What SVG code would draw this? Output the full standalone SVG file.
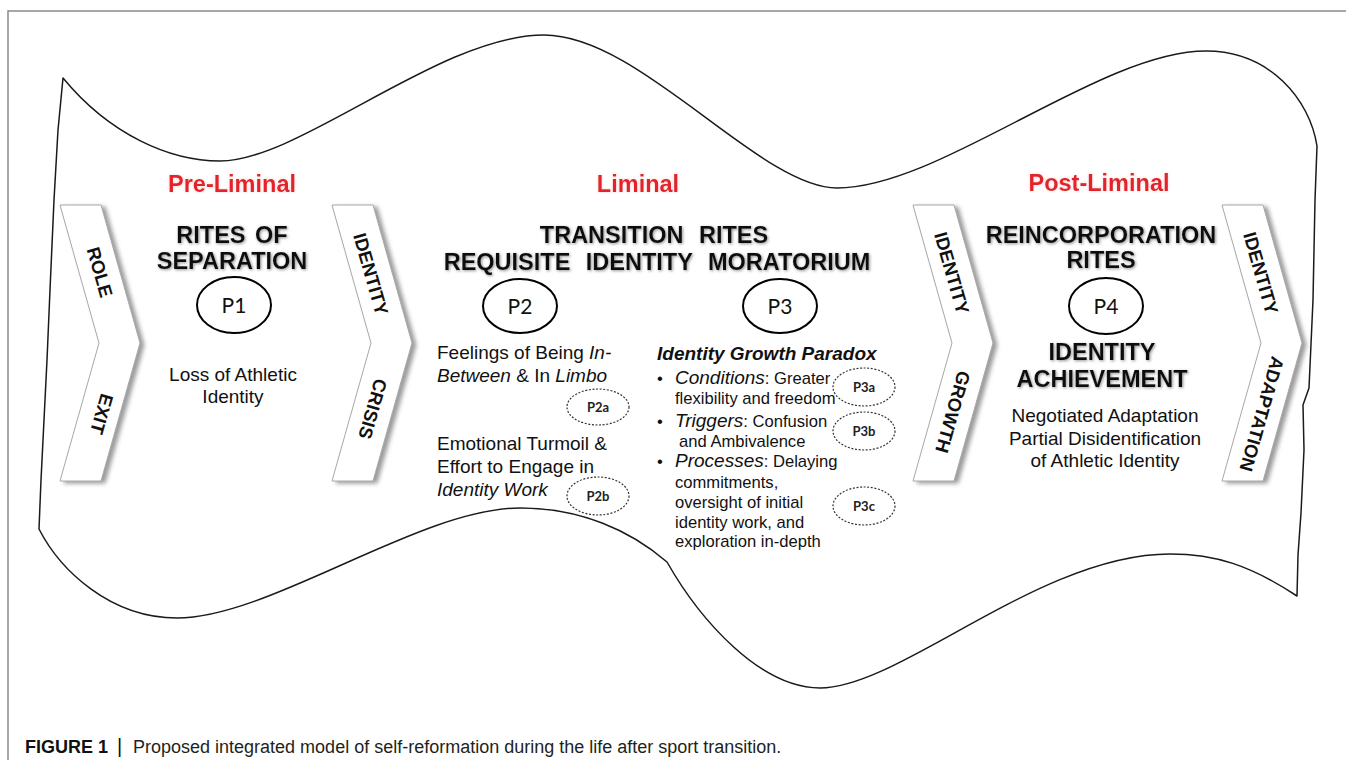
<svg xmlns="http://www.w3.org/2000/svg" width="1346" height="760" viewBox="0 0 1346 760">
<defs>
<filter id="shadow" x="-30%" y="-10%" width="160%" height="120%">
<feDropShadow dx="4" dy="2" stdDeviation="2.2" flood-color="#7a7a7a" flood-opacity="0.75"/>
</filter>
<filter id="glow" x="-10%" y="-40%" width="120%" height="180%">
<feGaussianBlur in="SourceAlpha" stdDeviation="1.6" result="b"/>
<feOffset in="b" dx="1" dy="1" result="o"/>
<feFlood flood-color="#7f7f7f" flood-opacity="0.85"/>
<feComposite in2="o" operator="in" result="s"/>
<feMerge><feMergeNode in="s"/><feMergeNode in="SourceGraphic"/></feMerge>
</filter>
<filter id="redglow" x="-10%" y="-40%" width="120%" height="180%">
<feGaussianBlur in="SourceAlpha" stdDeviation="1.5" result="b"/>
<feFlood flood-color="#f3b0b0" flood-opacity="0.6"/>
<feComposite in2="b" operator="in" result="s"/>
<feMerge><feMergeNode in="s"/><feMergeNode in="SourceGraphic"/></feMerge>
</filter>
</defs>
<style>
.frame{fill:none;stroke:#8a8a8a;stroke-width:1.5}
.wave{fill:#fff;stroke:#1a1a1a;stroke-width:1.5;stroke-linejoin:round}
.chev{fill:#fff;stroke:#a8a8a8;stroke-width:1}
.chevt{font-family:"Liberation Sans",Arial,sans-serif;font-weight:bold;font-size:18.5px;fill:#111;text-anchor:middle}
.stage{font-family:"Liberation Sans",Arial,sans-serif;font-weight:bold;font-size:23.5px;fill:#e3202a;text-anchor:middle}
.head{font-family:"Liberation Sans",Arial,sans-serif;font-weight:bold;font-size:23.5px;fill:#111;text-anchor:middle}
.body{font-family:"Liberation Sans",Arial,sans-serif;font-size:19px;fill:#111}
.small{font-family:"Liberation Sans",Arial,sans-serif;font-size:16.6px;fill:#111}
.mid{text-anchor:middle}
.it{font-style:italic}
.pel{fill:none;stroke:#000;stroke-width:2}
.plab{font-family:Lato,"Liberation Sans",sans-serif;font-size:21px;fill:#111;text-anchor:middle}
.dash{fill:none;stroke:#333;stroke-width:1.2;stroke-dasharray:2 1.6}
.dlab{font-family:Lato,"Liberation Sans",sans-serif;font-weight:bold;font-size:13px;fill:#222;text-anchor:middle}
.cap{font-family:"Liberation Sans",Arial,sans-serif;font-size:18px;fill:#231f20}
</style>
<rect x="0" y="0" width="1346" height="760" fill="#fff"/>
<path class="frame" d="M8,762 L8,11 L1348,11"/>
<path id="wave" class="wave" d="M63,78 C110,135 170,161 220,161 C300,161 440,35 544,35 C640,35 760,188 837,188 C940,188 1100,51 1206,51 C1270,51 1310,100 1317,146 L1315,200 L1313,300 L1309,388 L1303,405 L1304,450 L1301,513 L1298,555 L1297,596 C1250,565 1215,554 1170,554 C1040,554 900,688 820,688 C760,688 700,620 667,562 C630,530 580,508 520,508 C420,508 270,618 177,618 C110,618 60,570 39,529 L41,480 L44,420 L47,360 L50,290 L54,200 L58,130 Z"/>
<g id="connectors"/>
<g id="stage-pre"><text class="stage" x="232" y="192" filter="url(#redglow)">Pre-Liminal</text></g>
<g id="stage-liminal"><text class="stage" x="638" y="192" filter="url(#redglow)">Liminal</text></g>
<g id="stage-post"><text class="stage" x="1099" y="191" filter="url(#redglow)">Post-Liminal</text></g>
<g id="chevron-role-exit">
<polygon class="chev" filter="url(#shadow)" points="60,205 101,205 140,343 101,481 60,481 99,343"/>
<text class="chevt" transform="translate(100,272) rotate(74)" dy="0.36em">ROLE</text>
<text class="chevt" transform="translate(102,414) rotate(106)" dy="0.36em">EXIT</text>
</g>
<g id="chevron-identity-crisis">
<polygon class="chev" filter="url(#shadow)" points="332,205 373,205 412,343 373,481 332,481 371,343"/>
<text class="chevt" transform="translate(371,274) rotate(74)" dy="0.36em">IDENTITY</text>
<text class="chevt" transform="translate(373,409) rotate(106)" dy="0.36em">CRISIS</text>
</g>
<g id="chevron-identity-growth">
<polygon class="chev" filter="url(#shadow)" points="913,205 954,205 993,343 954,481 913,481 952,343"/>
<text class="chevt" transform="translate(952,273) rotate(74)" dy="0.36em">IDENTITY</text>
<text class="chevt" transform="translate(953,412) rotate(106)" dy="0.36em">GROWTH</text>
</g>
<g id="chevron-identity-adaptation">
<polygon class="chev" filter="url(#shadow)" points="1222,205 1263,205 1302,343 1263,481 1222,481 1261,343"/>
<text class="chevt" transform="translate(1261,273) rotate(74)" dy="0.36em">IDENTITY</text>
<text class="chevt" transform="translate(1262,414) rotate(106)" dy="0.36em">ADAPTATION</text>
</g>
<g id="rites-separation">
<text class="head" filter="url(#glow)" x="232" y="243" word-spacing="3">RITES OF</text>
<text class="head" filter="url(#glow)" x="232" y="269">SEPARATION</text>
<ellipse class="pel" cx="234" cy="305" rx="37" ry="28"/>
<text class="plab" x="234" y="313">P1</text>
<text class="body mid" x="233" y="381">Loss of Athletic</text>
<text class="body mid" x="233" y="403">Identity</text>
</g>
<g id="transition-rites">
<text class="head" filter="url(#glow)" x="654" y="243" word-spacing="9">TRANSITION RITES</text>
<text class="head" filter="url(#glow)" x="657" y="270" word-spacing="9">REQUISITE IDENTITY MORATORIUM</text>
</g>
<g id="p2">
<ellipse class="pel" cx="520" cy="306" rx="37" ry="27"/>
<text class="plab" x="520" y="314">P2</text>
<text class="body" x="437" y="359">Feelings of Being <tspan class="it">In-</tspan></text>
<text class="body" x="437" y="382"><tspan class="it">Between</tspan> &amp; In <tspan class="it">Limbo</tspan></text>
<text class="body" x="437" y="450">Emotional Turmoil &amp;</text>
<text class="body" x="437" y="473">Effort to Engage in</text>
<text class="body it" x="437" y="496">Identity Work</text>
</g>
<g id="p2a"><ellipse class="dash" cx="598" cy="407" rx="31" ry="18"/><text class="dlab" x="598" y="411.5">P2a</text></g>
<g id="p2b"><ellipse class="dash" cx="598" cy="496" rx="31" ry="19"/><text class="dlab" x="598" y="500.5">P2b</text></g>
<g id="p3">
<ellipse class="pel" cx="780" cy="306" rx="37" ry="27"/>
<text class="plab" x="780" y="314">P3</text>
<text class="body it" x="657" y="360" font-weight="bold" font-size="20.5">Identity Growth Paradox</text>
<text class="small" x="657" y="384">•</text>
<text class="small" x="675" y="384"><tspan class="it" font-size="19">Conditions</tspan>: Greater</text>
<text class="small" x="675" y="404">flexibility and freedom</text>
<text class="small" x="657" y="427">•</text>
<text class="small" x="675" y="427"><tspan class="it" font-size="19">Triggers</tspan>: Confusion</text>
<text class="small" x="679" y="447">and Ambivalence</text>
<text class="small" x="657" y="467">•</text>
<text class="small" x="675" y="467"><tspan class="it" font-size="19">Processes</tspan>: Delaying</text>
<text class="small" x="675" y="488">commitments,</text>
<text class="small" x="675" y="508">oversight of initial</text>
<text class="small" x="675" y="528">identity work, and</text>
<text class="small" x="675" y="547">exploration in-depth</text>
</g>
<g id="p3a"><ellipse class="dash" cx="864" cy="387" rx="31" ry="19"/><text class="dlab" x="864" y="391.5">P3a</text></g>
<g id="p3b"><ellipse class="dash" cx="864" cy="431" rx="31" ry="19"/><text class="dlab" x="864" y="435.5">P3b</text></g>
<g id="p3c"><ellipse class="dash" cx="864" cy="506" rx="31" ry="19"/><text class="dlab" x="864" y="510.5">P3c</text></g>
<g id="reincorporation">
<text class="head" filter="url(#glow)" x="1101" y="243">REINCORPORATION</text>
<text class="head" filter="url(#glow)" x="1101" y="268">RITES</text>
<ellipse class="pel" cx="1106" cy="306" rx="37" ry="28"/>
<text class="plab" x="1106" y="314">P4</text>
<text class="head" filter="url(#glow)" x="1102" y="360">IDENTITY</text>
<text class="head" filter="url(#glow)" x="1102" y="387">ACHIEVEMENT</text>
<text class="body mid" x="1105" y="422">Negotiated Adaptation</text>
<text class="body mid" x="1105" y="445">Partial Disidentification</text>
<text class="body mid" x="1105" y="467">of Athletic Identity</text>
</g>
<g id="caption">
<text class="cap" x="25" y="753"><tspan font-weight="bold" fill="#111">FIGURE 1</tspan><tspan x="117" font-size="20" fill="#111">|</tspan><tspan x="133">Proposed integrated model of self-reformation during the life after sport transition.</tspan></text>
</g>
</svg>
